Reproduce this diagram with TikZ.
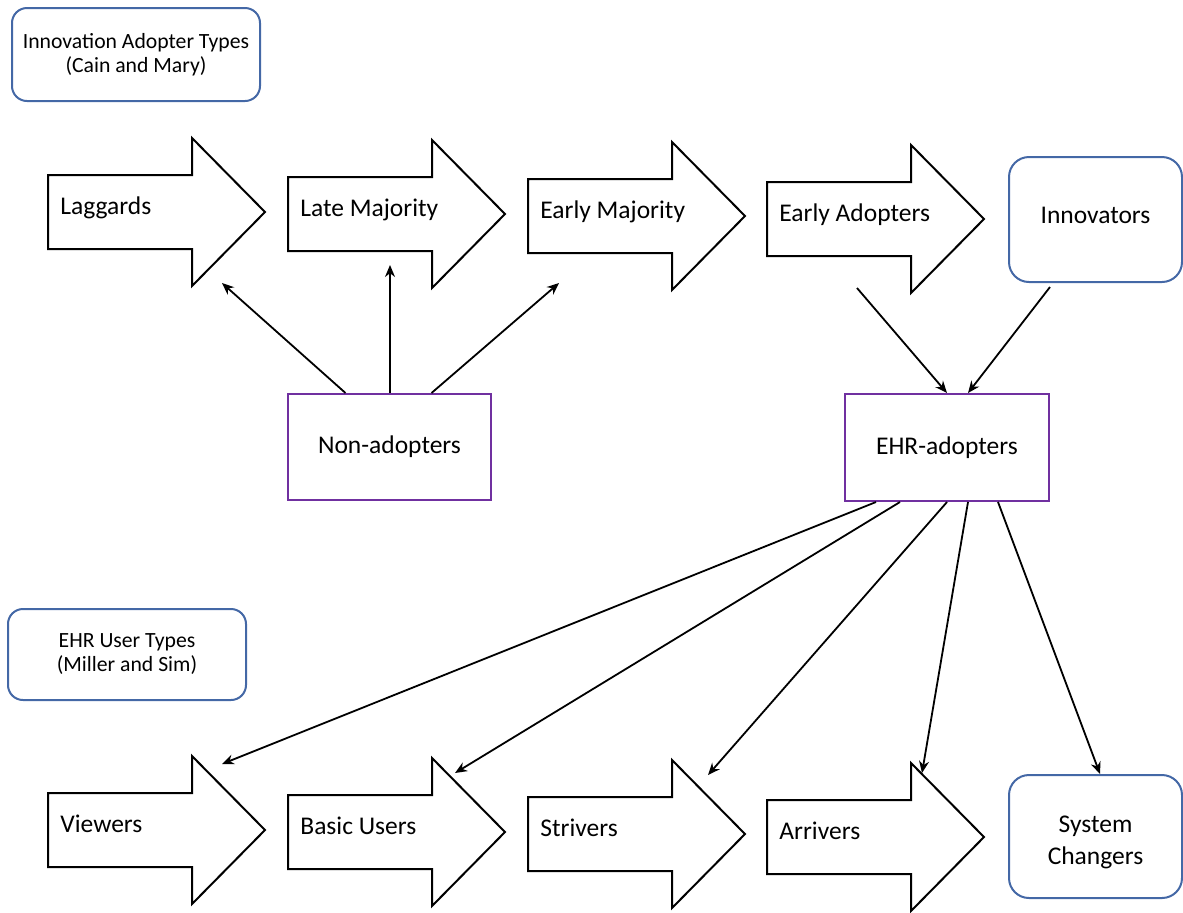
\documentclass[tikz,border=0pt]{standalone}
\usepackage{fontspec}
\setmainfont{Carlito}
\usetikzlibrary{arrows.meta,calc,positioning}

\definecolor{tagblue}{RGB}{68,104,166}
\definecolor{grppurple}{RGB}{112,48,160}

\tikzset{
  conn/.style={-{Stealth[length=6pt,width=5pt]}, line width=0.9pt},
  tag/.style={draw=tagblue, line width=1pt, rounded corners=7.5pt, align=center,
    font=\fontsize{10.85}{12}\selectfont},
  group/.style={draw=grppurple, line width=1pt, font=\fontsize{12.75}{16}\selectfont},
  % block arrow drawn round the label, label sits on the base line
  stage/.style={anchor=base west, inner xsep=6pt, font=\fontsize{12.75}{16}\selectfont,
    append after command={\pgfextra{\draw[line width=1pt, line join=miter]
      ($(\tikzlastnode.base west)+(0,-2)$) ++(0,-37) -- ++(144,0) -- ++(0,-37)
      -- ++(73,74) -- ++(-73,74) -- ++(0,-37) -- ++(-144,0) -- cycle;}}},
}

\begin{document}
\begin{tikzpicture}[x=0.5pt, y=-0.5pt]
  \useasboundingbox (0,0) rectangle (1183,912);

  % legends
  \node[tag, minimum width=124pt, minimum height=46.5pt] (innotag) at (136,54.5)
    {Innovation Adopter Types\\(Cain and Mary)};
  \node[tag, minimum width=119pt, minimum height=45.5pt] (ehrtag) at (127,654.5)
    {EHR User Types\\(Miller and Sim)};

  % adopter types
  \node[stage] (lag) at (48,214) {Laggards};
  \node[stage] (late) at (288,216) {Late Majority};
  \node[stage] (early) at (528,218) {Early Majority};
  \node[stage] (adopt) at (767,221) {Early Adopters};
  \node[tag, rounded corners=10pt, minimum width=86.5pt, minimum height=62.5pt,
    font=\fontsize{12.75}{16}\selectfont, text depth=4pt] (innov) at (1095.5,219.5) {Innovators};

  % groups
  \node[group, minimum width=101.5pt, minimum height=53pt] (nonad) at (389.5,447) {Non-adopters};
  \node[group, minimum width=102pt, minimum height=53.5pt] (ehrad) at (947,447.5) {EHR-adopters};

  % user types
  \node[stage] (view) at (48,832) {Viewers};
  \node[stage] (basic) at (288,834) {Basic Users};
  \node[stage] (striv) at (528,836) {Strivers};
  \node[stage] (arriv) at (767,839) {Arrivers};
  \node[tag, rounded corners=10pt, minimum width=86.5pt, minimum height=61.5pt,
    font=\fontsize{12.75}{16}\selectfont, text height=30.5pt] (sysch) at (1095.5,836.5) {System\\Changers};

  % free ends
  \coordinate (pLag) at (222,283);
  \coordinate (pLate) at (390,265);
  \coordinate (pEarly) at (559,283);
  \coordinate (pAdopt) at (857,288);
  \coordinate (pInnov) at (1050,287);
  \coordinate (pView) at (222,764);
  \coordinate (pBasic) at (455,773);
  \coordinate (pStriv) at (708,775);
  \coordinate (pArriv) at (922,773);

  \draw[conn] ([xshift=-22pt]nonad.north) -- (pLag);
  \draw[conn] ([xshift=0.25pt]nonad.north) -- (pLate);
  \draw[conn] ([xshift=21pt]nonad.north) -- (pEarly);

  \draw[conn] (pAdopt) -- (ehrad.north);
  \draw[conn] (pInnov) -- ([xshift=10.5pt]ehrad.north);

  \draw[conn] ([xshift=-35.5pt]ehrad.south) -- (pView);
  \draw[conn] ([xshift=-23.5pt]ehrad.south) -- (pBasic);
  \draw[conn] (ehrad.south) -- (pStriv);
  \draw[conn] ([xshift=10.5pt]ehrad.south) -- (pArriv);
  \draw[conn] ([xshift=25.5pt]ehrad.south) -- ([xshift=2.25pt]sysch.north);
\end{tikzpicture}
\end{document}
